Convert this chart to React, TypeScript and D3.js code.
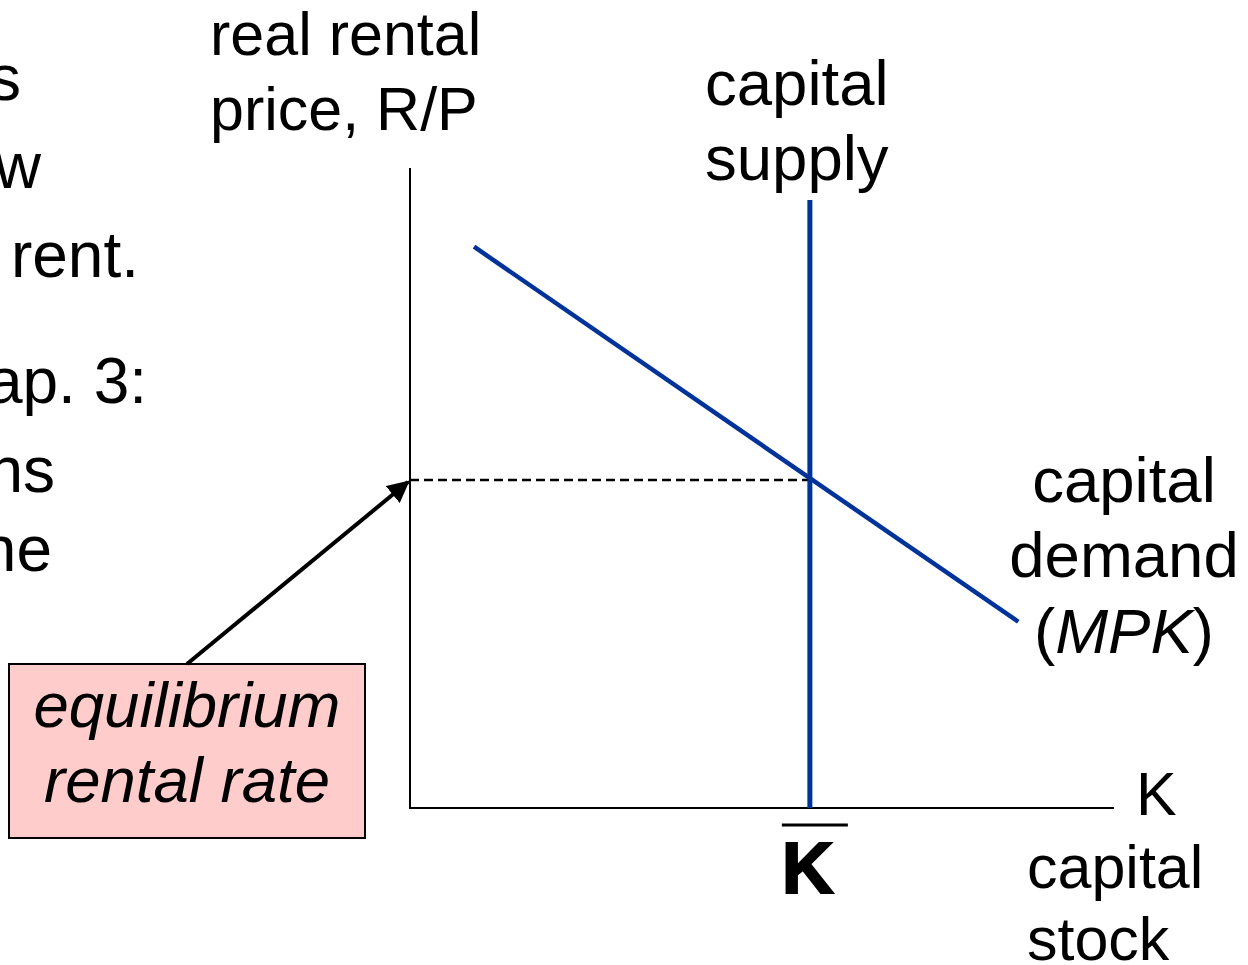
import React from 'react';
import * as d3 from 'd3';

// diagram values (K on x, R/P on y)
const demandK = [0.91, 8.64];
const demandR = [8.77, 2.91];
const supplyK = 5.68;
const supplyR = [0, 9.5];
const equilibriumR = 5.125;

// text fragments
const sideText = [
  { t: 's', x: 21, y: 100 },
  { t: 'w', x: 41, y: 188 },
  { t: 'rent.', x: 139, y: 277 },
  { t: 'ap. 3:', x: 147, y: 403 },
  { t: 'ns', x: 55, y: 492 },
  { t: 'ne', x: 52, y: 571 },
];
const yLabel = ['real rental', 'price, R/P'];
const supplyLabel = ['capital', 'supply'];
const xLabel = ['capital', 'stock'];
const boxLabel = ['equilibrium', 'rental rate'];

const W = 1248;
const H = 965;
const blue = '#003399';
const font = '"Liberation Sans", Arial, sans-serif';

export default function App() {
  const x = d3.scaleLinear().domain([0, 10]).range([410, 1114]);
  const y = d3.scaleLinear().domain([0, 10]).range([808, 168]);

  const line = d3.line<[number, number]>()
    .x(d => x(d[0]))
    .y(d => y(d[1]));

  const demand: [number, number][] = demandK.map((k, i) => [k, demandR[i]]);
  const supply: [number, number][] = supplyR.map(r => [supplyK, r]);

  const box = { x: 9, y: 664, w: 356, h: 174 };
  const arrowFrom = [box.x + 178, box.y];
  const arrowTo = [x(0), y(equilibriumR)];

  return (
    <svg width={W} height={H} style={{ position: 'absolute', left: 0, top: 0, background: '#fff' }}
      fontFamily={font} fontSize={61}>
      <defs>
        <marker id="head" viewBox="0 0 10 10" refX="9" refY="5" markerWidth="5.5" markerHeight="5.5"
          markerUnits="strokeWidth" orient="auto">
          <path d="M0,0 L10,5 L0,10 z" fill="#000" />
        </marker>
      </defs>

      {sideText.map((s, i) => (
        <text key={i} x={s.x} y={s.y} textAnchor="end" fontSize={64}>{s.t}</text>
      ))}

      {yLabel.map((t, i) => (
        <text key={t} x={210} y={55 + i * 75}>{t}</text>
      ))}
      {supplyLabel.map((t, i) => (
        <text key={t} x={705} y={105 + i * 75} fontSize={63.5}>{t}</text>
      ))}

      {/* axes */}
      <path d={`M${x(0)},${y(10)}V${y(0)}H${x(10)}`} fill="none" stroke="#000" strokeWidth={2} />

      {/* equilibrium guide */}
      <line x1={x(0)} x2={x(supplyK)} y1={y(equilibriumR)} y2={y(equilibriumR)}
        stroke="#000" strokeWidth={2.5} strokeDasharray="9,5" />

      <path d={line(supply) ?? ''} stroke={blue} strokeWidth={5} fill="none" />
      <path d={line(demand) ?? ''} stroke={blue} strokeWidth={4.5} fill="none" />

      {/* callout box and arrow */}
      <rect x={box.x} y={box.y} width={box.w} height={box.h} fill="#FFCCCC" stroke="#000" strokeWidth={2} />
      <line x1={arrowFrom[0]} y1={arrowFrom[1]} x2={arrowTo[0] - 2} y2={arrowTo[1] + 2}
        stroke="#000" strokeWidth={4} markerEnd="url(#head)" />
      {boxLabel.map((t, i) => (
        <text key={t} x={box.x + box.w / 2} y={727 + i * 75} textAnchor="middle" fontStyle="italic" fontSize={63.5}>{t}</text>
      ))}

      {/* demand label */}
      <g fontSize={63.5} textAnchor="middle">
        <text x={1124} y={502}>capital</text>
        <text x={1124} y={577}>demand</text>
        <text x={1124} y={653}>(<tspan fontStyle="italic">MPK</tspan>)</text>
      </g>

      {/* x axis labels */}
      <text x={1136} y={815}>K</text>
      {xLabel.map((t, i) => (
        <text key={t} x={1027} y={888 + i * 72}>{t}</text>
      ))}

      {/* K bar */}
      <line x1={x(supplyK) - 28} x2={x(supplyK) + 38} y1={825} y2={825} stroke="#000" strokeWidth={3} />
      <text x={x(supplyK) - 2} y={893} textAnchor="middle" fontWeight="bold" fontSize={72}
        stroke="#000" strokeWidth={2}>K</text>
    </svg>
  );
}
